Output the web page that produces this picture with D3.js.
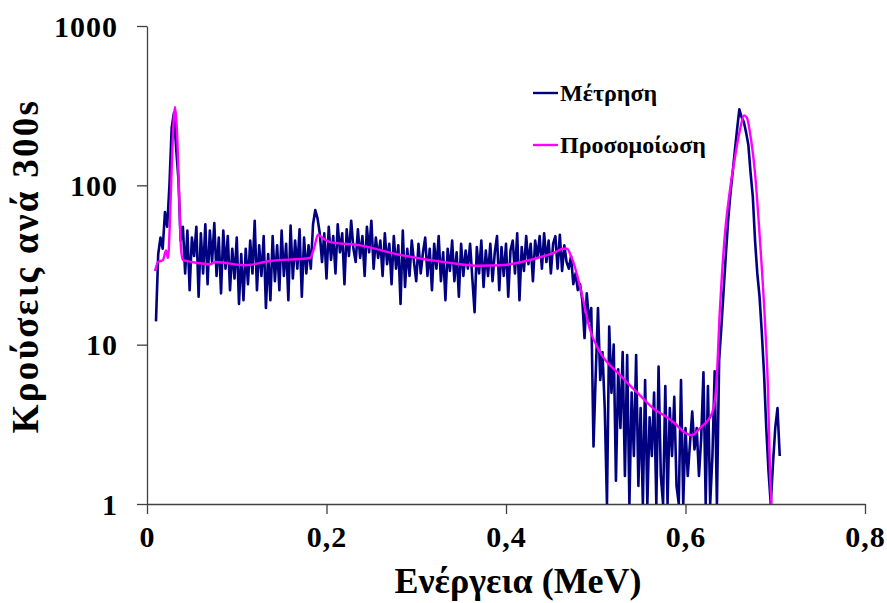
<!DOCTYPE html>
<html>
<head>
<meta charset="utf-8">
<script src="https://cdn.jsdelivr.net/npm/d3@7"></script>
<style>
  body { margin: 0; background: #fff; }
  text { font-family: "Liberation Serif", "Times New Roman", serif; font-weight: bold; }
</style>
</head>
<body>
<div id="chart"></div>
<script>
// measured spectrum: channel energies start at 0.010 MeV, 0.0025 MeV per point
const measStart = 0.010, measStep = 0.0025;
const measCounts = [
  14, 37, 47, 40, 68, 55, 100, 230, 285, 170,
  110, 45, 55, 28, 52, 22, 47, 36, 55, 20,
  50, 28, 57, 24, 52, 33, 58, 27, 47, 21,
  52, 30, 48, 22, 40, 26, 47, 18, 37, 19,
  40, 24, 45, 28, 60, 22, 42, 27, 48, 17,
  37, 19, 48, 25, 42, 22, 52, 27, 43, 19,
  56, 26, 45, 30, 53, 20, 47, 28, 42, 30,
  57, 70, 62, 50, 33, 50, 26, 55, 34, 48,
  28, 57, 38, 50, 24, 53, 36, 60, 40, 33,
  53, 35, 48, 27, 55, 38, 60, 30, 47, 35,
  45, 27, 50, 32, 43, 24, 48, 30, 42, 18,
  52, 23, 40, 27, 45, 33, 25, 43, 28, 38,
  47, 27, 40, 22, 43, 30, 48, 25, 38, 19,
  40, 29, 45, 25, 38, 20, 43, 27, 39, 30,
  43, 26, 16, 41, 28, 45, 23, 39, 27, 43,
  25, 38, 48, 22, 41, 27, 43, 20, 39, 45,
  28, 50, 19, 41, 29, 48, 32, 43, 25, 45,
  35, 48, 30, 50, 33, 45, 28, 43, 48, 30,
  49, 29, 42, 33, 30, 36, 24, 28, 22, 24,
  19, 11, 21, 14, 17, 2.3, 6.6, 17, 6, 9,
  4, 1, 13, 5, 10, 1.4, 7, 3, 9, 1.5,
  8.6, 1, 5, 2, 8.6, 1.3, 4, 1, 6, 1,
  3.5, 2, 5, 1, 7.3, 1.5, 1, 5.5, 1, 4,
  2, 4.7, 1.3, 1, 6, 1, 3, 1.5, 2.4, 3.8,
  2.2, 3, 1.5, 2.6, 6.7, 1, 5.5, 1, 2, 6.8,
  1, 8, 13, 22, 37, 60, 88, 120, 165, 225,
  300, 268, 250, 215, 180, 120, 85, 45, 28, 20,
  12, 6.6, 3, 1.6, 1, 1.8, 3, 4, 2
];

// simulation curve
const simEnergy = [0.0089, 0.0123, 0.0178, 0.0212, 0.0234, 0.0256, 0.0279, 0.0312, 0.0334, 0.0357,
  0.0379, 0.0401, 0.0501, 0.0702, 0.0769, 0.1092, 0.137, 0.1816, 0.186, 0.1905,
  0.195, 0.2039, 0.2373, 0.2819, 0.3376, 0.371, 0.3933, 0.4267, 0.4546, 0.4635,
  0.468, 0.4724, 0.4769, 0.4847, 0.4936, 0.5047, 0.527, 0.5493, 0.566, 0.5772,
  0.5883, 0.5994, 0.6072, 0.6162, 0.6295, 0.634, 0.6384, 0.6407, 0.644, 0.6496,
  0.6551, 0.6607, 0.6652, 0.6685, 0.6719, 0.6774, 0.683, 0.6886, 0.6919, 0.6942, 0.6964];
const simCounts = [29, 33, 34, 39, 35, 60, 150, 310, 220, 90,
  40, 34, 33, 32, 33, 31.5, 33.5, 35, 40, 49,
  47, 44, 42, 36.6, 32.6, 31.3, 31.5, 34, 38, 40,
  40, 36, 30.5, 20.5, 12.4, 9, 6.45, 4.8, 3.9, 3.57,
  3.2, 2.8, 2.7, 3, 3.7, 5.2, 17, 28, 50, 94,
  150, 223, 275, 265, 213, 120, 45, 13.7, 5.2, 1.56, 0.9];

const xTicks = [0, 0.2, 0.4, 0.6, 0.8];
const yTicks = [1, 10, 100, 1000];
const legendLabels = ["Μέτρηση", "Προσομοίωση"];

const margin = { top: 26, left: 147, right: 22, bottom: 99 },
  width = 887 - margin.left - margin.right,
  height = 603 - margin.top - margin.bottom;

const svg = d3.select("#chart").append("svg")
  .attr("width", 887).attr("height", 603);

const g = svg.append("g").attr("transform", `translate(${margin.left},${margin.top})`);

const x = d3.scaleLinear().domain([0, 0.8]).range([0, width]);
const y = d3.scaleLog().domain([1, 1000]).range([height, 0]);

g.append("clipPath").attr("id", "clip")
  .append("rect").attr("x", 0).attr("y", -2).attr("width", width).attr("height", height + 2);

const xAxis = g.append("g")
  .attr("transform", `translate(0,${height})`)
  .call(d3.axisBottom(x).tickValues(xTicks).tickSize(10).tickSizeOuter(0)
    .tickFormat(d => d === 0 ? "0" : d3.format(".1f")(d).replace(".", ",")));
const yAxis = g.append("g")
  .call(d3.axisLeft(y).tickValues(yTicks).tickSize(10).tickSizeOuter(0).tickFormat(d3.format("d")));

[xAxis, yAxis].forEach(a => {
  a.select(".domain").attr("stroke", "#404040").attr("stroke-width", 1.3);
  a.selectAll(".tick line").attr("stroke", "#404040").attr("stroke-width", 1.3);
  a.selectAll(".tick text").attr("fill", "#000").style("font-size", "30px")
    .style("letter-spacing", "1px").style("font-family", "Liberation Serif").style("font-weight", "bold");
});
xAxis.selectAll(".tick text").attr("dy", "1.1em").attr("y", 10);
yAxis.selectAll(".tick text").attr("x", -29).attr("dy", "0.34em");

const meas = measCounts.map((v, i) => ({ e: measStart + i * measStep, v: v }));
const sim = simEnergy.map((e, i) => ({ e: e, v: simCounts[i] }));

const line = d3.line().x(d => x(d.e)).y(d => y(Math.max(d.v, 0.5)));
const curve = d3.line().curve(d3.curveMonotoneX).x(d => x(d.e)).y(d => y(d.v));

const plot = g.append("g").attr("clip-path", "url(#clip)");
plot.append("path").datum(meas)
  .attr("fill", "none").attr("stroke", "#000080").attr("stroke-width", 2.6)
  .attr("stroke-linejoin", "round").attr("d", line);
plot.append("path").datum(sim)
  .attr("fill", "none").attr("stroke", "#ff00ff").attr("stroke-width", 2.4)
  .attr("d", curve);

// legend
const legendColors = ["#000080", "#ff00ff"];
const legend = svg.append("g");
legendLabels.forEach((t, i) => {
  const ly = 93 + i * 52;
  legend.append("line").attr("x1", 533).attr("x2", 558).attr("y1", ly).attr("y2", ly)
    .attr("stroke", legendColors[i]).attr("stroke-width", 2.4);
  legend.append("text").attr("x", 560).attr("y", ly + 8).style("font-size", "24px").text(t);
});

// axis titles
svg.append("text").attr("x", margin.left + width / 2 + 12).attr("y", 593)
  .attr("text-anchor", "middle").style("font-size", "36px").text("Ενέργεια (MeV)");
svg.append("text").attr("transform", "translate(38,266) rotate(-90)")
  .attr("text-anchor", "middle").style("font-size", "37px").style("letter-spacing", "2.3px")
  .text("Κρούσεις ανά 300s");
</script>
</body>
</html>
